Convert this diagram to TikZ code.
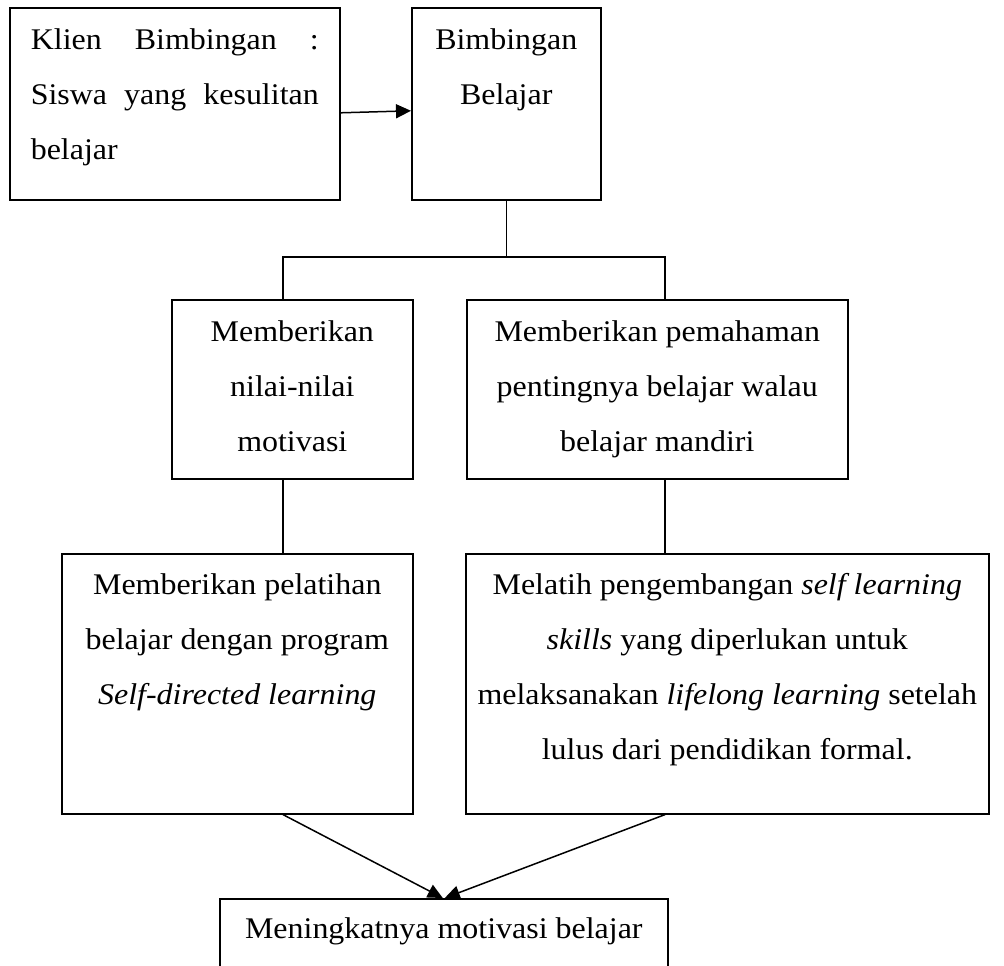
\documentclass[tikz,border=0pt]{standalone}
\usepackage{fontspec}
\setmainfont{Liberation Serif}[FakeStretch=1.065]
\usetikzlibrary{arrows.meta,positioning}
\tikzset{>={Triangle[length=15pt,width=14pt]},x=1pt,y=1pt}
\tikzset{box/.style={draw,line width=1.6pt,inner sep=0pt,anchor=north west,
    font=\fontsize{30}{55}\selectfont},
  conn/.style={line width=1.5pt}}
\newcommand{\boxtext}[4]{\parbox[t][#2][t]{#1}{\vspace*{#3}\centering #4}}

\begin{document}
\begin{tikzpicture}
\useasboundingbox (0,0) rectangle (1004,-966);
% boxes
\node[box] (klien) at (9,-7) {\boxtext{330pt}{192pt}{20.5pt}{%
    \makebox[288pt][s]{Klien Bimbingan :}\\
    \makebox[288pt][s]{Siswa yang kesulitan}\\
    \makebox[288pt][l]{belajar}}};
\node[box] (bimb) at (411,-7) {\boxtext{189pt}{192pt}{20.5pt}{Bimbingan\\Belajar}};
\node[box] (nilai) at (171,-299) {\boxtext{241pt}{179pt}{20.5pt}{Memberikan\\nilai-nilai\\motivasi}};
\node[box] (paham) at (466,-299) {\boxtext{381pt}{179pt}{20.5pt}{Memberikan pemahaman\\pentingnya belajar walau\\belajar mandiri}};
\node[box] (latih) at (61,-553) {\boxtext{351pt}{260pt}{20pt}{Memberikan pelatihan\\belajar dengan program\\\textit{Self-directed learning}}};
\node[box] (skill) at (465,-553) {\boxtext{523pt}{260pt}{20pt}{Melatih pengembangan \textit{self learning}\\\textit{skills} yang diperlukan untuk\\melaksanakan \textit{lifelong learning} setelah\\lulus dari pendidikan formal.}};
\node[box] (hasil) at (219,-898) {\boxtext{448pt}{100pt}{18.5pt}{Meningkatnya motivasi belajar}};
% connectors
\coordinate (jl) at (283,-257);
\coordinate (jr) at (665,-257);
\draw[conn] (bimb.south) -- (bimb.south |- jl);
\draw[conn] (nilai.north -| jl) -- (jl) -- (jr) -- (paham.north -| jr);
\draw[conn] (nilai.south -| jl) -- (latih.north -| jl);
\draw[conn] (paham.south -| jr) -- (skill.north -| jr);
\path[conn,->]
    ([yshift=-9pt]klien.east) edge ([yshift=-7pt]bimb.west)
    (latih.south -| jl) edge ([xshift=-1pt]hasil.north)
    (skill.south -| jr) edge ([xshift=1pt]hasil.north);
\end{tikzpicture}
\end{document}
